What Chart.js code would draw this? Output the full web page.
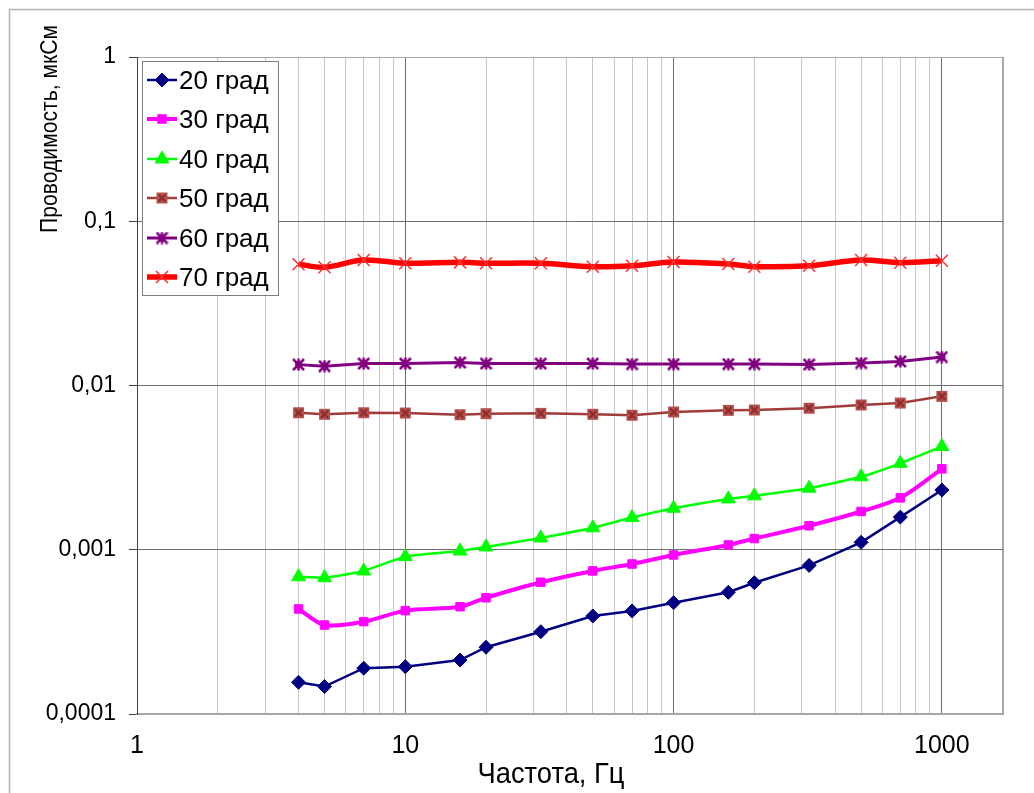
<!DOCTYPE html>
<html>
<head>
<meta charset="utf-8">
<title>Проводимость</title>
<script src="https://cdn.jsdelivr.net/npm/chart.js@4.4.1/dist/chart.umd.min.js"></script>
<style>
  html, body { margin: 0; padding: 0; background: #fff; }
  #wrap { width: 1034px; height: 793px; }
</style>
</head>
<body>
<div id="wrap"><canvas id="chart" width="1034" height="793"></canvas></div>
<script>
// frequency, Hz
const freqHz = [4, 5, 7, 10, 16, 20, 32, 50, 70, 100, 160, 200, 320, 500, 700, 1000];

// conductance, uS, one list per temperature
const g20 = [0.000156, 0.000147, 0.000190, 0.000194, 0.000213, 0.000255, 0.000317, 0.000395,
             0.000424, 0.000476, 0.000551, 0.000630, 0.000803, 0.00111, 0.00158, 0.00231];
const g30 = [0.000436, 0.000348, 0.000365, 0.000426, 0.000450, 0.000510, 0.000634, 0.000743,
             0.000819, 0.000929, 0.00107, 0.00117, 0.00140, 0.00171, 0.00207, 0.00311];
const g40 = [0.000685, 0.000676, 0.000743, 0.000908, 0.000982, 0.00104, 0.00118, 0.00136,
             0.00157, 0.00179, 0.00204, 0.00213, 0.00237, 0.00278, 0.00336, 0.00425];
const g50 = [0.00683, 0.00668, 0.00683, 0.00680, 0.00664, 0.00674, 0.00677, 0.00668,
             0.00659, 0.00690, 0.00706, 0.00709, 0.00727, 0.00761, 0.00782, 0.00859];
const g60 = [0.0134, 0.0131, 0.0136, 0.0136, 0.0138, 0.0136, 0.0136, 0.0136,
             0.0135, 0.0135, 0.0135, 0.0135, 0.0134, 0.0137, 0.0140, 0.0149];
const g70 = [0.0547, 0.0525, 0.0581, 0.0555, 0.0562, 0.0555, 0.0555, 0.0529,
             0.0536, 0.0565, 0.0549, 0.0529, 0.0536, 0.0581, 0.0559, 0.0575];

const seriesNames = ['20 град', '30 град', '40 град', '50 град', '60 град', '70 град'];

// axis ticks
const xTickValues = [1, 10, 100, 1000];
const xTickLabels = ['1', '10', '100', '1000'];
const yTickValues = [0.0001, 0.001, 0.01, 0.1, 1];
const yTickLabels = ['0,0001', '0,001', '0,01', '0,1', '1'];
const X_MIN = 1, X_MAX = 1690;

const FONT = '"Liberation Sans", Arial, sans-serif';
Chart.defaults.font.family = FONT;
Chart.defaults.color = '#000';

// little bitmap markers (square with a cross, square with a star)
function markerSquareX(fill, line) {
    const c = document.createElement('canvas');
    c.width = 13; c.height = 13;
    const g = c.getContext('2d');
    g.fillStyle = fill;
    g.fillRect(1, 1, 11, 11);
    g.strokeStyle = line; g.lineWidth = 2;
    g.beginPath();
    g.moveTo(3, 3); g.lineTo(10, 10);
    g.moveTo(10, 3); g.lineTo(3, 10);
    g.stroke();
    return c;
}
function markerStar(color) {
    const c = document.createElement('canvas');
    c.width = 13; c.height = 13;
    const g = c.getContext('2d');
    g.fillStyle = color;
    g.fillRect(3, 3, 7, 7);
    g.strokeStyle = color; g.lineWidth = 2.5;
    g.beginPath();
    g.moveTo(1, 1); g.lineTo(12, 12);
    g.moveTo(12, 1); g.lineTo(1, 12);
    g.moveTo(6.5, 0.5); g.lineTo(6.5, 12.5);
    g.stroke();
    return c;
}

const styles = [
    { borderColor: '#000080', borderWidth: 2.5, pointStyle: 'rectRot', pointRadius: 7,
      pointBackgroundColor: '#000080', pointBorderColor: '#000080', pointBorderWidth: 1, tension: 0 },
    { borderColor: '#ff00ff', borderWidth: 4, pointStyle: 'rect', pointRadius: 6,
      pointBackgroundColor: '#ff00ff', pointBorderColor: '#ff00ff', pointBorderWidth: 1, tension: 0.3 },
    { borderColor: '#00ff00', borderWidth: 2.5, pointStyle: 'triangle', pointRadius: 8,
      pointBackgroundColor: '#00ff00', pointBorderColor: '#00ff00', pointBorderWidth: 1, tension: 0.15 },
    { borderColor: '#a03c3a', borderWidth: 2.5, pointStyle: markerSquareX('#b5514e', '#8c2b2b'), pointRadius: 7,
      pointBackgroundColor: '#b5514e', pointBorderColor: '#8c2b2b', pointBorderWidth: 1, tension: 0 },
    { borderColor: '#800080', borderWidth: 3, pointStyle: markerStar('#800080'), pointRadius: 7,
      pointBackgroundColor: '#800080', pointBorderColor: '#800080', pointBorderWidth: 1, tension: 0 },
    { borderColor: '#ff0000', borderWidth: 5.5, pointStyle: 'crossRot', pointRadius: 8.5,
      pointBackgroundColor: '#ff0000', pointBorderColor: '#ff3030', pointBorderWidth: 1.5, tension: 0.35 }
];

const allValues = [g20, g30, g40, g50, g60, g70];
const datasets = allValues.map((vals, i) => Object.assign({
    label: seriesNames[i],
    data: freqHz.map((f, k) => ({ x: f, y: vals[k] })),
    fill: false,
    pointHoverRadius: styles[i].pointRadius
}, styles[i]));

// white page with the light frame at top and left
const pageFrame = {
    id: 'pageFrame',
    beforeDraw(chart) {
        const ctx = chart.ctx;
        ctx.save();
        ctx.fillStyle = '#fff';
        ctx.fillRect(0, 0, chart.width, chart.height);
        ctx.strokeStyle = '#b4b4b4';
        ctx.lineWidth = 1.5;
        ctx.beginPath();
        ctx.moveTo(9.5, chart.height);
        ctx.lineTo(9.5, 9.5);
        ctx.lineTo(chart.width, 9.5);
        ctx.stroke();
        ctx.restore();
    }
};

// boxed legend in the top-left corner of the plot, line + marker samples
const boxedLegend = {
    id: 'boxedLegend',
    beforeDatasetsDraw(chart) {
        const ctx = chart.ctx, a = chart.chartArea;
        const x0 = a.left + 5, y0 = a.top + 4, w = 136, h = 234;
        ctx.save();
        ctx.fillStyle = '#fff';
        ctx.fillRect(x0, y0, w, h);
        ctx.strokeStyle = '#7f7f7f';
        ctx.lineWidth = 1;
        ctx.strokeRect(x0 + 0.5, y0 + 0.5, w, h);
        chart.data.datasets.forEach((ds, i) => {
            const cy = Math.round(y0 + 19 + i * 39.4);
            ctx.strokeStyle = ds.borderColor;
            ctx.lineWidth = ds.borderWidth;
            ctx.beginPath();
            ctx.moveTo(x0 + 5, cy);
            ctx.lineTo(x0 + 35, cy);
            ctx.stroke();
            ctx.fillStyle = ds.pointBackgroundColor;
            ctx.strokeStyle = ds.pointBorderColor;
            ctx.lineWidth = ds.pointBorderWidth;
            if (Chart.helpers && Chart.helpers.drawPoint) {
                Chart.helpers.drawPoint(ctx, {
                    pointStyle: ds.pointStyle, radius: ds.pointRadius,
                    borderWidth: ds.pointBorderWidth, rotation: 0
                }, x0 + 20, cy);
            }
            ctx.fillStyle = '#000';
            ctx.font = '26px ' + FONT;
            ctx.textAlign = 'left';
            ctx.textBaseline = 'middle';
            ctx.fillText(ds.label, x0 + 37, cy + 2);
        });
        ctx.restore();
    }
};

// draw text squeezed to a given length
function fitText(ctx, text, len) {
    const w = ctx.measureText(text).width;
    ctx.scale(len / w, 1);
    ctx.fillText(text, 0, 0);
}

// axis titles (narrow, as in the original sheet)
const axisTitles = {
    id: 'axisTitles',
    afterDraw(chart) {
        const ctx = chart.ctx;
        ctx.save();
        ctx.fillStyle = '#000';
        ctx.textAlign = 'center';
        ctx.textBaseline = 'alphabetic';
        ctx.font = '30px ' + FONT;
        ctx.translate(551, 783);
        fitText(ctx, 'Частота, Гц', 147);
        ctx.restore();

        ctx.save();
        ctx.fillStyle = '#000';
        ctx.textAlign = 'center';
        ctx.textBaseline = 'alphabetic';
        ctx.font = '24px ' + FONT;
        ctx.translate(57, 129);
        ctx.rotate(-Math.PI / 2);
        fitText(ctx, 'Проводимость, мкСм', 208);
        ctx.restore();
    }
};

new Chart(document.getElementById('chart').getContext('2d'), {
    type: 'line',
    data: { datasets: datasets },
    plugins: [pageFrame, boxedLegend, axisTitles],
    options: {
        responsive: false,
        animation: false,
        layout: { padding: { top: 57, right: 31, left: 0, bottom: 0 } },
        plugins: {
            legend: { display: false },
            tooltip: { enabled: false }
        },
        scales: {
            x: {
                type: 'logarithmic',
                min: X_MIN,
                max: X_MAX,
                afterFit(scale) { scale.height = 79; },
                afterBuildTicks(scale) {
                    const vals = [];
                    xTickValues.forEach(d => {
                        for (let k = 1; k <= 9; k++) {
                            if (d * k < X_MAX) vals.push(d * k);
                        }
                    });
                    vals.push(X_MAX);
                    scale.ticks = vals.map(v => ({ value: v, major: xTickValues.includes(v) }));
                },
                ticks: {
                    autoSkip: false,
                    maxRotation: 0,
                    padding: 17,
                    font: { size: 25 },
                    color: '#000',
                    callback(v) {
                        const i = xTickValues.indexOf(v);
                        return i >= 0 ? xTickLabels[i] : '';
                    }
                },
                grid: {
                    drawTicks: false,
                    color(c) {
                        if (!c.tick) return '#c6c6c6';
                        if (c.tick.value === X_MAX) return '#a6a6a6';
                        return c.tick.major ? '#6e6e6e' : '#c6c6c6';
                    },
                    lineWidth(c) {
                        return c.tick && c.tick.value === X_MAX ? 2 : 1;
                    }
                },
                border: { color: '#a6a6a6', width: 2 }
            },
            y: {
                type: 'logarithmic',
                min: 0.0001,
                max: 1,
                afterFit(scale) { scale.width = 137; },
                afterBuildTicks(scale) {
                    scale.ticks = yTickValues.map(v => ({ value: v, major: true }));
                },
                ticks: {
                    autoSkip: false,
                    padding: 13,
                    font: { size: 23 },
                    color: '#000',
                    callback(v) {
                        const i = yTickValues.indexOf(v);
                        return i >= 0 ? yTickLabels[i] : '';
                    }
                },
                grid: {
                    drawTicks: true,
                    tickLength: 8,
                    tickColor: '#404040',
                    color(c) {
                        return c.tick && c.tick.value === 1 ? '#a6a6a6' : '#6e6e6e';
                    }
                },
                border: { color: '#404040', width: 1 }
            }
        }
    }
});
</script>
</body>
</html>
